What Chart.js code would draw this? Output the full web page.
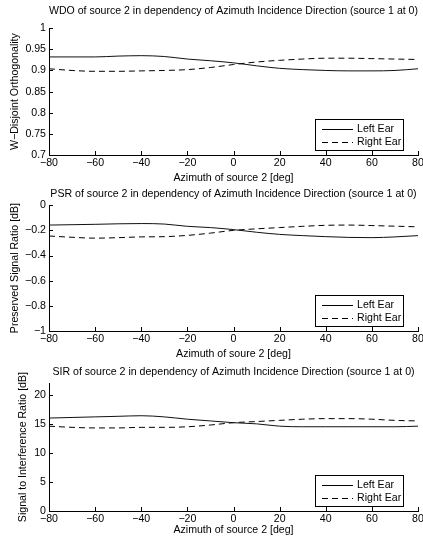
<!DOCTYPE html>
<html>
<head>
<meta charset="utf-8">
<script src="https://cdn.jsdelivr.net/npm/chart.js@4"></script>
<style>
  html, body { margin: 0; padding: 0; background: #fff; overflow: hidden; width: 423px; height: 536px; }
  canvas { position: absolute; left: 0; }
</style>
</head>
<body>
<canvas id="wdoChart" width="428" height="184" style="top:0px"></canvas>
<canvas id="psrChart" width="428" height="178" style="top:182px"></canvas>
<canvas id="sirChart" width="428" height="176" style="top:360px"></canvas>
<script>
// azimuth of source 2 in degrees
const azimuth = [-80, -70, -60, -50, -40, -30, -20, -10, 0, 10, 20, 30, 40, 50, 60, 70, 80];

const wdoLeft  = [0.932, 0.932, 0.932, 0.934, 0.935, 0.933, 0.927, 0.923, 0.918, 0.911, 0.905, 0.902, 0.900, 0.899, 0.899, 0.900, 0.904];
const wdoRight = [0.904, 0.900, 0.898, 0.898, 0.899, 0.900, 0.902, 0.907, 0.914, 0.920, 0.924, 0.927, 0.929, 0.929, 0.928, 0.927, 0.926];

const psrLeft  = [-0.158, -0.155, -0.152, -0.148, -0.146, -0.150, -0.168, -0.178, -0.194, -0.215, -0.232, -0.242, -0.250, -0.256, -0.258, -0.252, -0.242];
const psrRight = [-0.245, -0.255, -0.262, -0.258, -0.252, -0.250, -0.240, -0.222, -0.200, -0.188, -0.178, -0.168, -0.160, -0.158, -0.162, -0.167, -0.172];

const sirLeft  = [16.0, 16.1, 16.2, 16.3, 16.4, 16.2, 15.8, 15.5, 15.2, 15.0, 14.6, 14.5, 14.5, 14.5, 14.5, 14.5, 14.6];
const sirRight = [14.6, 14.4, 14.3, 14.3, 14.4, 14.4, 14.5, 14.8, 15.2, 15.4, 15.6, 15.8, 15.9, 15.9, 15.8, 15.6, 15.5];

const xTicks   = [-80, -60, -40, -20, 0, 20, 40, 60, 80];
const wdoTicks = [0.7, 0.75, 0.8, 0.85, 0.9, 0.95, 1];
const psrTicks = [-1, -0.8, -0.6, -0.4, -0.2, 0];
const sirTicks = [0, 5, 10, 15, 20];

const seriesNames = ['Left Ear', 'Right Ear'];

Chart.defaults.font.family = '"Liberation Sans", Arial, sans-serif';
Chart.defaults.font.size = 10.6;
Chart.defaults.font.lineHeight = 1.15;
Chart.defaults.color = '#000';

function fmt(v) {
    return String(Number(v.toFixed(2))).replace('-', '\u2212');
}

// matlab style ticks pointing into the axes
const innerTicks = {
    id: 'innerTicks',
    afterDraw(chart) {
        const { ctx, chartArea, scales } = chart;
        ctx.save();
        ctx.strokeStyle = '#000';
        ctx.lineWidth = 1;
        ctx.beginPath();
        scales.x.ticks.forEach(t => {
            const px = Math.round(scales.x.getPixelForValue(t.value)) + 0.5;
            ctx.moveTo(px, chartArea.bottom);
            ctx.lineTo(px, chartArea.bottom - 4);
        });
        scales.y.ticks.forEach(t => {
            const py = Math.round(scales.y.getPixelForValue(t.value)) + 0.5;
            ctx.moveTo(chartArea.left, py);
            ctx.lineTo(chartArea.left + 4, py);
        });
        ctx.stroke();
        ctx.restore();
    }
};

// boxed legend in the lower right corner of the axes
const legendBox = {
    id: 'legendBox',
    afterDraw(chart) {
        const { ctx, chartArea } = chart;
        const w = 88, h = 31;
        const x = Math.round(chartArea.right - 15 - w);
        const y = Math.round(chartArea.bottom - 5 - h);
        ctx.save();
        ctx.fillStyle = '#fff';
        ctx.fillRect(x, y, w, h);
        ctx.strokeStyle = '#000';
        ctx.lineWidth = 1;
        ctx.strokeRect(x + 0.5, y + 0.5, w, h);
        chart.data.datasets.forEach((ds, i) => {
            const ly = y + 10.5 + i * 13;
            ctx.setLineDash(ds.borderDash || []);
            ctx.beginPath();
            ctx.moveTo(x + 7, ly);
            ctx.lineTo(x + 38, ly);
            ctx.stroke();
            ctx.setLineDash([]);
            ctx.fillStyle = '#000';
            ctx.font = Chart.defaults.font.size + 'px ' + Chart.defaults.font.family;
            ctx.textBaseline = 'middle';
            ctx.fillText(ds.label, x + 42, ly);
        });
        ctx.restore();
    }
};

function makeChart(id, cfg) {
    const ctx = document.getElementById(id).getContext('2d');
    return new Chart(ctx, {
        type: 'line',
        data: {
            datasets: [
                {
                    label: seriesNames[0],
                    data: azimuth.map((a, i) => ({ x: a, y: cfg.left[i] })),
                    borderColor: '#111',
                    borderWidth: 1,
                    pointRadius: 0,
                    cubicInterpolationMode: 'monotone'
                },
                {
                    label: seriesNames[1],
                    data: azimuth.map((a, i) => ({ x: a, y: cfg.right[i] })),
                    borderColor: '#000',
                    borderWidth: 1,
                    borderDash: [6, 4],
                    pointRadius: 0,
                    cubicInterpolationMode: 'monotone'
                }
            ]
        },
        options: {
            responsive: false,
            animation: false,
            layout: { padding: { left: 0, right: 10, top: 0, bottom: 0 } },
            plugins: {
                legend: { display: false },
                tooltip: { enabled: false },
                title: {
                    display: true,
                    text: cfg.title,
                    fullSize: false,
                    font: { weight: 'normal' },
                    padding: cfg.titlePad
                }
            },
            scales: {
                x: {
                    type: 'linear',
                    min: -80,
                    max: 80,
                    afterBuildTicks: s => { s.ticks = xTicks.map(v => ({ value: v })); },
                    afterFit: s => { s.height = cfg.xHeight; },
                    grid: { display: true, drawOnChartArea: false, drawTicks: false },
                    border: { display: true, color: '#000', width: 1 },
                    ticks: { padding: 2, maxRotation: 0, callback: v => fmt(v) },
                    title: { display: true, text: cfg.xTitle, padding: { top: 0, bottom: 0 } }
                },
                y: {
                    min: cfg.yMin,
                    max: cfg.yMax,
                    afterBuildTicks: s => { s.ticks = cfg.yTicks.map(v => ({ value: v })); },
                    afterFit: s => { s.width = 49; },
                    grid: { display: true, drawOnChartArea: false, drawTicks: false },
                    border: { display: true, color: '#000', width: 1 },
                    ticks: { padding: 3, callback: v => fmt(v) },
                    title: { display: true, text: cfg.yTitle, padding: { top: cfg.yTitlePad, bottom: 0 } }
                }
            }
        },
        plugins: [innerTicks, legendBox]
    });
}

makeChart('wdoChart', {
    title: 'WDO of source 2 in dependency of Azimuth Incidence Direction (source 1 at 0)',
    xTitle: 'Azimuth of source 2 [deg]',
    yTitle: 'W\u2212Disjoint Orthogonality',
    left: wdoLeft, right: wdoRight,
    yMin: 0.7, yMax: 1, yTicks: wdoTicks,
    titlePad: { top: 5, bottom: 11 }, xHeight: 29, yTitlePad: 9
});

makeChart('psrChart', {
    title: 'PSR of source 2 in dependency of Azimuth Incidence Direction (source 1 at 0)',
    xTitle: 'Azimuth of soure 2 [deg]',
    yTitle: 'Preserved Signal Ratio [dB]',
    left: psrLeft, right: psrRight,
    yMin: -1, yMax: 0, yTicks: psrTicks,
    titlePad: { top: 6, bottom: 5 }, xHeight: 29, yTitlePad: 9
});

makeChart('sirChart', {
    title: 'SIR of source 2 in dependency of Azimuth Incidence Direction (source 1 at 0)',
    xTitle: 'Azimuth of source 2 [deg]',
    yTitle: 'Signal to Interference Ratio [dB]',
    left: sirLeft, right: sirRight,
    yMin: 0, yMax: 22, yTicks: sirTicks,
    titlePad: { top: 6, bottom: 5 }, xHeight: 25, yTitlePad: 17
});
</script>
</body>
</html>
